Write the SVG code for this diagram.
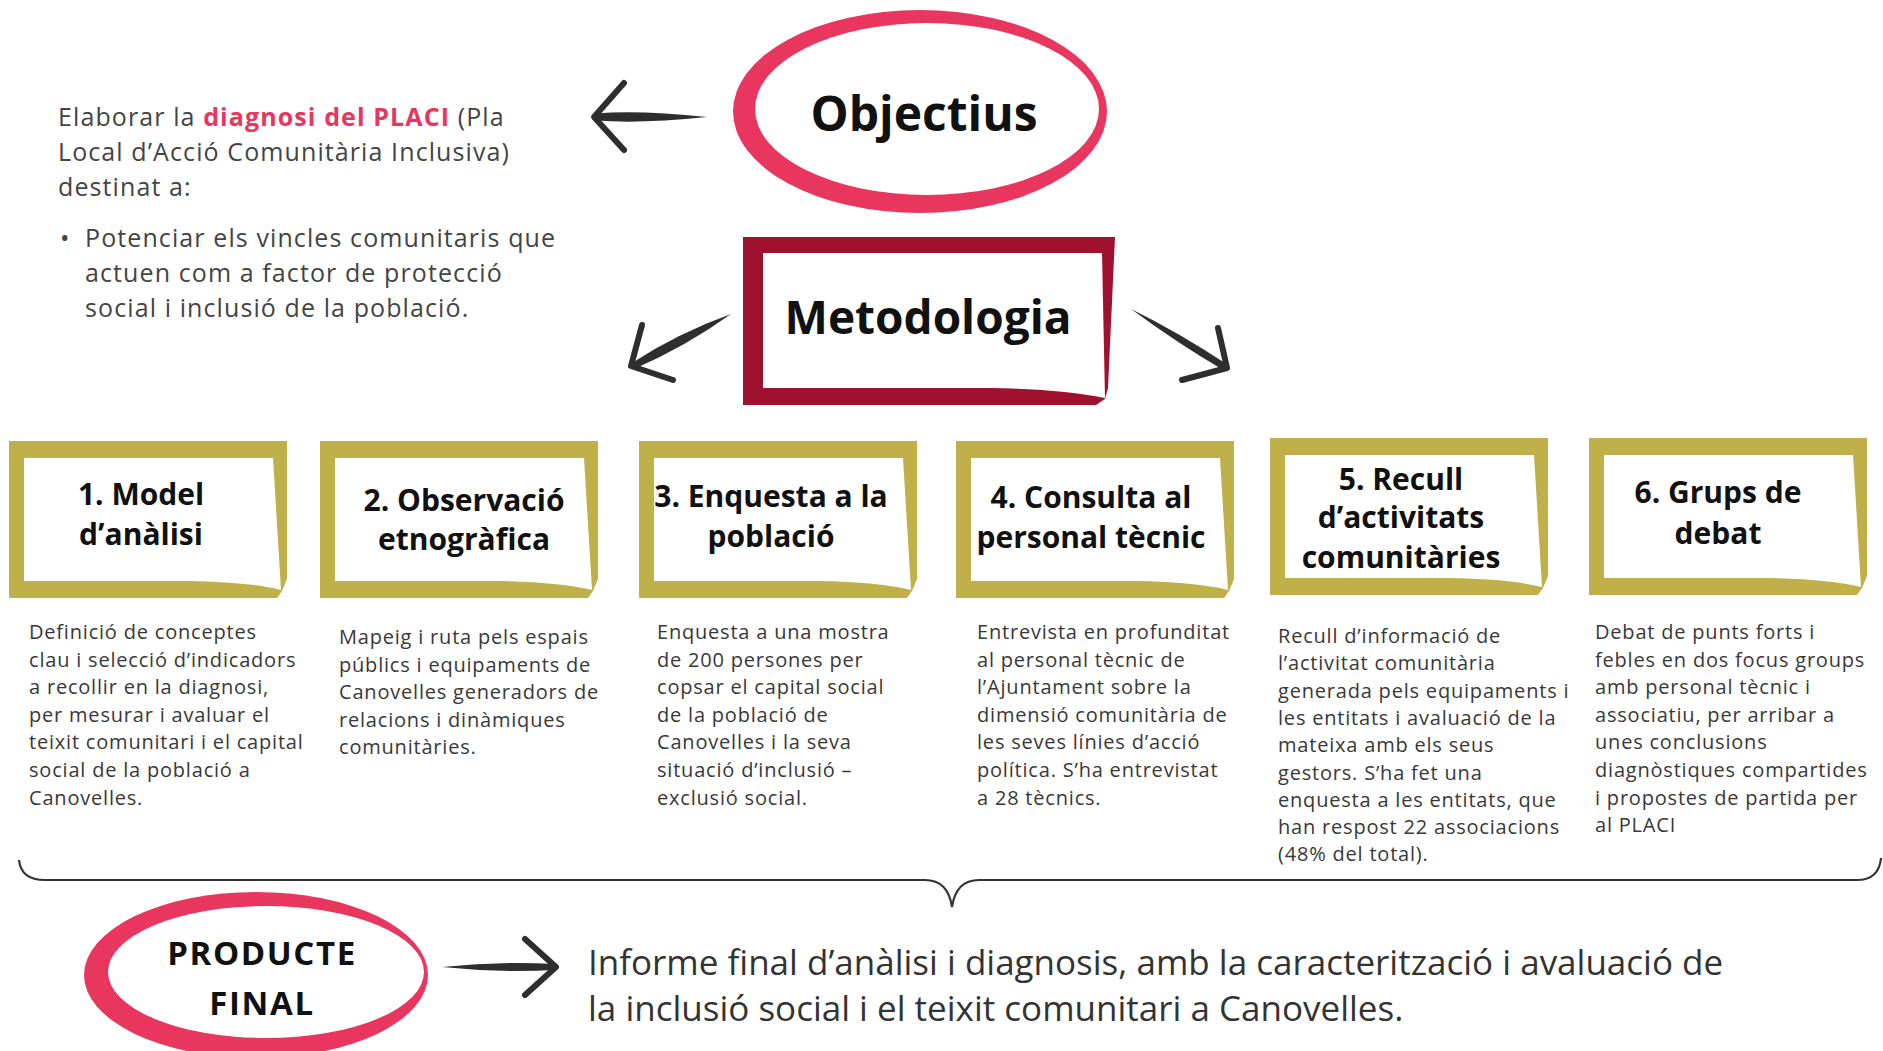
<svg xmlns="http://www.w3.org/2000/svg" width="1883" height="1051" viewBox="0 0 1883 1051">
<style>
.desc{font-family:'Open Sans','Liberation Sans',sans-serif;font-size:20px;letter-spacing:0.8px;fill:#383838}
.head{font-family:'Open Sans','Liberation Sans',sans-serif;font-weight:700;font-size:30px;fill:#111;text-anchor:middle}
.big{font-family:'Open Sans','Liberation Sans',sans-serif;font-weight:700;fill:#111;text-anchor:middle}
.lt{font-family:'Open Sans','Liberation Sans',sans-serif;font-size:25px;letter-spacing:1.1px;fill:#444}
.pink{fill:#e8365e;font-weight:700}
.fin{font-family:'Open Sans','Liberation Sans',sans-serif;font-size:35px;fill:#333}
.gold{fill:#bfb04a}
.paper{fill:#fff}
.arrow{fill:none;stroke:#2e2e2e;stroke-width:6;stroke-linecap:round;stroke-linejoin:round}
.shaft{fill:#2e2e2e}
.brace{fill:none;stroke:#333;stroke-width:2.2}
.ring{fill:#e8365e}
</style>
<defs>
<g id="goldFrame">
<path class="gold" d="M0,0 H278 V138 L273,150 L268,157 H0 Z"/>
<path class="paper" d="M15,17 H264 L272,149 Q240,141 180,140 H15 Z"/>
</g>
</defs>
<rect width="1883" height="1051" fill="#fff"/>

<g id="objectius-text">
<text class="lt" x="58" y="126">Elaborar la <tspan class="pink">diagnosi del PLACI</tspan> (Pla</text>
<text class="lt" x="58" y="161">Local d’Acció Comunitària Inclusiva)</text>
<text class="lt" x="58" y="196">destinat a:</text>
<text class="lt" x="60" y="247">•</text>
<text class="lt" x="85" y="247">Potenciar els vincles comunitaris que</text>
<text class="lt" x="85" y="282">actuen com a factor de protecció</text>
<text class="lt" x="85" y="317">social i inclusió de la població.</text>
</g>

<g id="objectius">
<ellipse class="ring" cx="920" cy="111.5" rx="187" ry="101.5"/>
<ellipse fill="#fff" cx="927" cy="109" rx="172" ry="86"/>
<text class="big" x="924" y="131" font-size="48">Objectius</text>
</g>

<g id="metodologia">
<path fill="#a0102f" d="M743,237 H1115 L1108,388 L1105,399 L1096,405 H743 Z"/>
<path fill="#fff" d="M763,253 H1102 L1105,398 Q1060,389 990,388 H763 Z"/>
<text class="big" x="928" y="334" font-size="46">Metodologia</text>
</g>

<g id="connectors">
<path class="shaft" d="M707,117 Q640,110 596,113.5 L596,120.5 Q640,124 707,117 Z"/>
<path class="arrow" d="M624,83 L594,117 L624,150"/>
<path class="shaft" d="M731,314 Q678,333 632,363 L634,369 Q685,347 731,314 Z"/>
<path class="arrow" d="M642,325 L631,366 L673,380"/>
<path class="shaft" d="M1131,309 Q1180,345 1225,371 L1228,365 Q1178,332 1131,309 Z"/>
<path class="arrow" d="M1218,328 L1227,368 L1182,380"/>
<path class="shaft" d="M442,967 Q500,961 555,964 L555,970 Q500,973 442,967 Z"/>
<path class="arrow" d="M525,939 L556,967 L525,995"/>
<path class="brace" d="M19,860 Q21,880 45,880 H925 Q948,880 952,907 Q956,880 979,880 H1857 Q1879,880 1881,858"/>
</g>

<g id="box1">
<use href="#goldFrame" x="9" y="441"/>
<text class="head" x="141" y="505">1. Model</text>
<text class="head" x="141" y="545">d’anàlisi</text>
<text class="desc" x="29" y="639">Definició de conceptes</text>
<text class="desc" x="29" y="666.6">clau i selecció d’indicadors</text>
<text class="desc" x="29" y="694.2">a recollir en la diagnosi,</text>
<text class="desc" x="29" y="721.8">per mesurar i avaluar el</text>
<text class="desc" x="29" y="749.4">teixit comunitari i el capital</text>
<text class="desc" x="29" y="777">social de la població a</text>
<text class="desc" x="29" y="804.6">Canovelles.</text>
</g>

<g id="box2">
<use href="#goldFrame" x="320" y="441"/>
<text class="head" x="464" y="511">2. Observació</text>
<text class="head" x="464" y="550">etnogràfica</text>
<text class="desc" x="339" y="644">Mapeig i ruta pels espais</text>
<text class="desc" x="339" y="671.6">públics i equipaments de</text>
<text class="desc" x="339" y="699.2">Canovelles generadors de</text>
<text class="desc" x="339" y="726.8">relacions i dinàmiques</text>
<text class="desc" x="339" y="754.4">comunitàries.</text>
</g>

<g id="box3">
<use href="#goldFrame" x="639" y="441"/>
<text class="head" x="771" y="507">3. Enquesta a la</text>
<text class="head" x="771" y="547">població</text>
<text class="desc" x="657" y="639">Enquesta a una mostra</text>
<text class="desc" x="657" y="666.6">de 200 persones per</text>
<text class="desc" x="657" y="694.2">copsar el capital social</text>
<text class="desc" x="657" y="721.8">de la població de</text>
<text class="desc" x="657" y="749.4">Canovelles i la seva</text>
<text class="desc" x="657" y="777">situació d’inclusió –</text>
<text class="desc" x="657" y="804.6">exclusió social.</text>
</g>

<g id="box4">
<use href="#goldFrame" x="956" y="441"/>
<text class="head" x="1091" y="508">4. Consulta al</text>
<text class="head" x="1091" y="548">personal tècnic</text>
<text class="desc" x="977" y="639">Entrevista en profunditat</text>
<text class="desc" x="977" y="666.6">al personal tècnic de</text>
<text class="desc" x="977" y="694.2">l’Ajuntament sobre la</text>
<text class="desc" x="977" y="721.8">dimensió comunitària de</text>
<text class="desc" x="977" y="749.4">les seves línies d’acció</text>
<text class="desc" x="977" y="777">política. S’ha entrevistat</text>
<text class="desc" x="977" y="804.6">a 28 tècnics.</text>
</g>

<g id="box5">
<use href="#goldFrame" x="1270" y="438"/>
<text class="head" x="1401" y="490">5. Recull</text>
<text class="head" x="1401" y="528">d’activitats</text>
<text class="head" x="1401" y="568">comunitàries</text>
<text class="desc" x="1278" y="643">Recull d’informació de</text>
<text class="desc" x="1278" y="670.3">l’activitat  comunitària</text>
<text class="desc" x="1278" y="697.6">generada pels equipaments i</text>
<text class="desc" x="1278" y="724.9">les entitats i avaluació de la</text>
<text class="desc" x="1278" y="752.2">mateixa amb els seus</text>
<text class="desc" x="1278" y="779.5">gestors. S’ha fet una</text>
<text class="desc" x="1278" y="806.8">enquesta a les entitats, que</text>
<text class="desc" x="1278" y="834.1">han respost 22 associacions</text>
<text class="desc" x="1278" y="861.4">(48% del total).</text>
</g>

<g id="box6">
<use href="#goldFrame" x="1589" y="438"/>
<text class="head" x="1718" y="503">6. Grups de</text>
<text class="head" x="1718" y="544">debat</text>
<text class="desc" x="1595" y="639">Debat de punts forts i</text>
<text class="desc" x="1595" y="666.6">febles en dos focus groups</text>
<text class="desc" x="1595" y="694.2">amb personal tècnic i</text>
<text class="desc" x="1595" y="721.8">associatiu, per arribar a</text>
<text class="desc" x="1595" y="749.4">unes conclusions</text>
<text class="desc" x="1595" y="777">diagnòstiques compartides</text>
<text class="desc" x="1595" y="804.6">i propostes de partida per</text>
<text class="desc" x="1595" y="832.2">al PLACI</text>
</g>

<g id="producte-final">
<ellipse class="ring" cx="256" cy="975" rx="172" ry="83"/>
<ellipse fill="#fff" cx="266" cy="972" rx="158" ry="66"/>
<text class="big" x="262" y="965" font-size="33" letter-spacing="1.6" fill="#222">PRODUCTE</text>
<text class="big" x="262" y="1015" font-size="33" letter-spacing="1.6" fill="#222">FINAL</text>
</g>

<g id="informe">
<text class="fin" x="588" y="975">Informe final d’anàlisi i diagnosis, amb la caracterització i avaluació de</text>
<text class="fin" x="588" y="1021">la inclusió social i el teixit comunitari a Canovelles.</text>
</g>
</svg>
